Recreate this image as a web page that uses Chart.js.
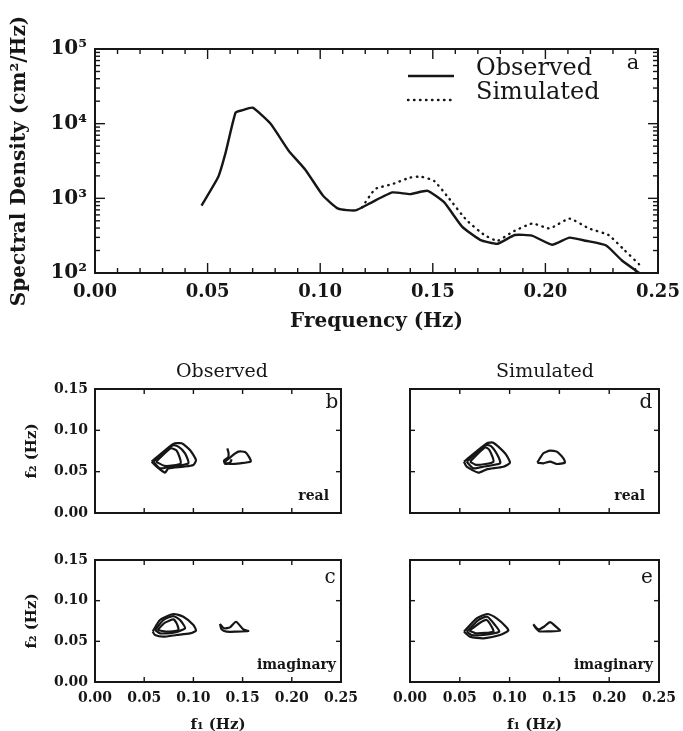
<!DOCTYPE html>
<html>
<head>
<meta charset="utf-8">
<script src="https://cdn.jsdelivr.net/npm/chart.js@4.4.0/dist/chart.umd.min.js"></script>
<style>
  body { margin: 0; background: #fff; width: 683px; height: 731px; position: relative; overflow: hidden; }
  canvas { position: absolute; }
</style>
</head>
<body>
<canvas id="chartA" style="left:0;top:0" width="683" height="340"></canvas>
<canvas id="chartB" style="left:0;top:340px" width="380" height="180"></canvas>
<canvas id="chartD" style="left:345px;top:340px" width="338" height="180"></canvas>
<canvas id="chartC" style="left:0;top:520px" width="380" height="215"></canvas>
<canvas id="chartE" style="left:345px;top:520px" width="338" height="215"></canvas>
<script>
// panel a: spectra
const freq = [0.0473, 0.0547, 0.0580, 0.0624, 0.0653, 0.0700, 0.0779, 0.0860, 0.0934, 0.1012, 0.1080, 0.1157,
              0.1225, 0.1320, 0.1400, 0.1477, 0.1550, 0.1630, 0.1710, 0.1787, 0.1864, 0.1940, 0.2030, 0.2107,
              0.2180, 0.2270, 0.2340, 0.2417];
const observed = [800, 1930, 4100, 14000, 15100, 16400, 10050, 4350, 2420, 1090, 726, 690,
                  871, 1200, 1140, 1260, 889, 418, 278, 246, 323, 317, 239, 298,
                  270, 234, 147, 100];
const simFreq = [0.1186, 0.1244, 0.1320, 0.1400, 0.1448, 0.1506, 0.1574, 0.1650, 0.1729, 0.1787, 0.1855,
                 0.1942, 0.2019, 0.2107, 0.2194, 0.2280, 0.2349, 0.2417];
const simulated = [760, 1330, 1550, 1900, 1950, 1710, 980, 510, 323, 270, 357,
                   460, 395, 535, 395, 323, 205, 130];
const freqTicks = [0, 0.05, 0.10, 0.15, 0.20, 0.25];
const densityTicks = [1e2, 1e3, 1e4, 1e5];

// panels b-e: bispectrum contours, [f1, f2] in Hz
const f1Ticks = [0, 0.05, 0.10, 0.15, 0.20, 0.25];
const f2Ticks = [0, 0.05, 0.10, 0.15];

const realObsOuter = [[0.0576,0.0621],[0.0796,0.0835],[0.0881,0.0843],[0.0965,0.0762],[0.1026,0.0641],[0.0999,0.0580],[0.0898,0.0560],[0.0745,0.0540],[0.0711,0.0488],[0.0627,0.0560]];
const realObsMiddle = [[0.0593,0.0620],[0.0790,0.0819],[0.0847,0.0802],[0.0915,0.0722],[0.0948,0.0601],[0.0762,0.0560],[0.0660,0.0540]];
const realObsInner = [[0.0620,0.0620],[0.0769,0.0782],[0.0830,0.0754],[0.0870,0.0601],[0.0711,0.0569]];
const realObsSmall = [[0.1311,0.0609],[0.1389,0.0689],[0.1457,0.0742],[0.1524,0.0738],[0.1568,0.0673],[0.1582,0.0621],[0.1474,0.0601],[0.1372,0.0593]];
const realObsCurl = [[0.1345,0.0782],[0.1358,0.0722],[0.1352,0.0673],[0.1311,0.0633],[0.1325,0.0593],[0.1372,0.0609],[0.1389,0.0649]];

const realSimOuter = [[0.0542,0.0621],[0.0770,0.0843],[0.0837,0.0850],[0.0954,0.0722],[0.1004,0.0609],[0.0937,0.0560],[0.0770,0.0528],[0.0686,0.0488],[0.0569,0.0560]];
const realSimMiddle = [[0.0569,0.0621],[0.0763,0.0823],[0.0820,0.0802],[0.0887,0.0681],[0.0904,0.0601],[0.0736,0.0560],[0.0636,0.0540]];
const realSimInner = [[0.0602,0.0621],[0.0753,0.0794],[0.0797,0.0762],[0.0837,0.0621],[0.0669,0.0581]];
const realSimSmall = [[0.1278,0.0609],[0.1339,0.0722],[0.1406,0.0754],[0.1473,0.0742],[0.1540,0.0661],[0.1556,0.0609],[0.1473,0.0593],[0.1406,0.0621],[0.1339,0.0601]];

const imagObsOuter = [[0.0586,0.0619],[0.0660,0.0762],[0.0796,0.0836],[0.0898,0.0803],[0.1000,0.0701],[0.1026,0.0631],[0.0965,0.0598],[0.0830,0.0578],[0.0694,0.0557],[0.0610,0.0578]];
const imagObsMiddle = [[0.0610,0.0639],[0.0694,0.0762],[0.0796,0.0811],[0.0864,0.0762],[0.0915,0.0660],[0.0796,0.0606],[0.0660,0.0598]];
const imagObsInner = [[0.0634,0.0639],[0.0711,0.0729],[0.0796,0.0770],[0.0830,0.0721],[0.0847,0.0639],[0.0728,0.0619]];
const imagObsSmall = [[0.1270,0.0713],[0.1311,0.0660],[0.1372,0.0672],[0.1433,0.0741],[0.1507,0.0647],[0.1558,0.0627],[0.1440,0.0619],[0.1338,0.0619],[0.1287,0.0647]];

const imagSimOuter = [[0.0542,0.0619],[0.0669,0.0783],[0.0776,0.0836],[0.0870,0.0783],[0.0964,0.0680],[0.0987,0.0631],[0.0904,0.0578],[0.0736,0.0537],[0.0602,0.0557]];
const imagSimMiddle = [[0.0569,0.0619],[0.0686,0.0762],[0.0776,0.0803],[0.0853,0.0701],[0.0897,0.0619],[0.0736,0.0578],[0.0619,0.0578]];
const imagSimInner = [[0.0596,0.0631],[0.0703,0.0729],[0.0770,0.0762],[0.0820,0.0680],[0.0837,0.0619],[0.0669,0.0598]];
const imagSimSmall = [[0.1238,0.0709],[0.1288,0.0647],[0.1345,0.0680],[0.1406,0.0737],[0.1466,0.0680],[0.1506,0.0631],[0.1389,0.0623],[0.1298,0.0623],[0.1265,0.0660]];

const BLACK = '#161616';
const SERIF = "'DejaVu Serif', serif";
const SUP = { 2: '\u00b2', 3: '\u00b3', 4: '\u2074', 5: '\u2075' };

// inward ticks on all four sides, the box, and loose text
const frame = {
  id: 'frame',
  afterDraw(chart, args, opts) {
    const { ctx, chartArea: a, scales: { x, y } } = chart;
    ctx.save();
    ctx.strokeStyle = BLACK;
    ctx.fillStyle = BLACK;
    ctx.lineWidth = 1.4;
    const seg = (x0, y0, x1, y1) => { ctx.beginPath(); ctx.moveTo(x0, y0); ctx.lineTo(x1, y1); ctx.stroke(); };
    (opts.xTicks || []).forEach(([v, len]) => {
      const px = x.getPixelForValue(v);
      seg(px, a.bottom, px, a.bottom - len);
      seg(px, a.top, px, a.top + len);
    });
    (opts.yTicks || []).forEach(([v, len]) => {
      const py = y.getPixelForValue(v);
      seg(a.left, py, a.left + len, py);
      seg(a.right, py, a.right - len, py);
    });
    ctx.lineWidth = 2;
    ctx.strokeRect(a.left, a.top, a.right - a.left, a.bottom - a.top);

    if (opts.legend) {
      chart.data.datasets.forEach((ds, i) => {
        const ly = opts.legend.y + i * opts.legend.gap;
        ctx.lineWidth = ds.borderWidth;
        ctx.lineCap = ds.borderCapStyle || 'butt';
        ctx.setLineDash(ds.borderDash || []);
        seg(opts.legend.x0, ly + 7, opts.legend.x1, ly + 7);
        ctx.setLineDash([]);
        ctx.font = opts.legend.font;
        ctx.textAlign = 'left';
        ctx.textBaseline = 'middle';
        ctx.fillText(ds.label, opts.legend.tx, ly);
      });
    }
    (opts.texts || []).forEach(t => {
      ctx.font = t.font;
      ctx.textAlign = t.align || 'center';
      ctx.textBaseline = 'middle';
      ctx.fillText(t.text, t.x, t.y);
    });
    ctx.restore();
  }
};

function linePoints(xs, ys) {
  return xs.map((v, i) => ({ x: v, y: ys[i] }));
}

function contour(pts, closed) {
  const list = closed === false ? pts : pts.concat([pts[0]]);
  return {
    data: list.map(p => ({ x: p[0], y: p[1] })),
    showLine: true, borderColor: BLACK, borderWidth: 2.2, pointRadius: 0, tension: 0.2
  };
}

const majorMinor = (majors, minors, bigLen, smallLen) =>
  majors.map(v => [v, bigLen]).concat(minors.map(v => [v, smallLen]));

// panel a
const freqMinor = [];
for (let k = 1; k < 25; k++) if (k % 5) freqMinor.push(k / 100);
const densityMinor = [];
[1e2, 1e3, 1e4].forEach(d => { for (let k = 2; k <= 9; k++) densityMinor.push(k * d); });

new Chart(document.getElementById('chartA'), {
  type: 'scatter',
  data: {
    datasets: [
      { label: 'Observed', data: linePoints(freq, observed), showLine: true, borderColor: BLACK,
        borderWidth: 2.4, pointRadius: 0, tension: 0.15 },
      { label: 'Simulated', data: linePoints(simFreq, simulated), showLine: true, borderColor: BLACK,
        borderWidth: 2.4, borderDash: [0.5, 5.5], borderCapStyle: 'round', pointRadius: 0, tension: 0.15 }
    ]
  },
  options: {
    responsive: false,
    animation: false,
    layout: { padding: { left: 0, top: 49, right: 25, bottom: 0 } },
    plugins: {
      legend: { display: false },
      tooltip: { enabled: false },
      frame: {
        xTicks: majorMinor(freqTicks, freqMinor, 10, 5),
        yTicks: majorMinor(densityTicks, densityMinor, 10, 5),
        legend: { x0: 408, x1: 454, tx: 476, y: 69, gap: 24, font: '24px ' + SERIF },
        texts: [{ text: 'a', x: 633, y: 64, font: '21px ' + SERIF }]
      }
    },
    scales: {
      x: {
        type: 'linear', min: 0, max: 0.25,
        grid: { display: false, drawTicks: false }, border: { display: false },
        afterBuildTicks: s => { s.ticks = freqTicks.map(v => ({ value: v })); },
        afterFit: s => { s.height = 67; s.paddingLeft = 0; s.paddingRight = 0; },
        ticks: { padding: 9, color: BLACK, font: { family: SERIF, size: 18, weight: 'bold' },
                 callback: v => v.toFixed(2) },
        title: { display: true, text: 'Frequency (Hz)', color: BLACK,
                 font: { family: SERIF, size: 20, weight: 'bold' }, padding: { top: 0, bottom: 6 } }
      },
      y: {
        type: 'logarithmic', min: 100, max: 1e5,
        grid: { display: false, drawTicks: false }, border: { display: false },
        afterBuildTicks: s => { s.ticks = densityTicks.map(v => ({ value: v })); },
        afterFit: s => { s.width = 95; s.paddingTop = 0; s.paddingBottom = 0; },
        ticks: { padding: 8, color: BLACK, font: { family: SERIF, size: 20, weight: 'bold' },
                 callback: v => '10' + SUP[Math.round(Math.log10(v))] },
        title: { display: true, text: 'Spectral Density (cm\u00b2/Hz)', color: BLACK,
                 font: { family: SERIF, size: 20, weight: 'bold' }, padding: { top: 8, bottom: 0 } }
      }
    }
  },
  plugins: [frame]
});

// panels b-e
function contourPanel(id, opt) {
  const H = opt.height;
  return new Chart(document.getElementById(id), {
    type: 'scatter',
    data: { datasets: opt.loops },
    options: {
      responsive: false,
      animation: false,
      layout: { padding: { left: 0, top: opt.area.top, right: opt.right, bottom: 0 } },
      plugins: {
        legend: { display: false },
        tooltip: { enabled: false },
        frame: {
          xTicks: f1Ticks.map(v => [v, 5]),
          yTicks: f2Ticks.map(v => [v, 5]),
          texts: opt.texts
        }
      },
      scales: {
        x: {
          type: 'linear', min: 0, max: 0.25,
          grid: { display: false, drawTicks: false }, border: { display: false },
          afterBuildTicks: s => { s.ticks = f1Ticks.map(v => ({ value: v })); },
          afterFit: s => { s.height = H - opt.area.bottom; s.paddingLeft = 0; s.paddingRight = 0; },
          ticks: { display: opt.xLabels, padding: 8, color: BLACK,
                   font: { family: SERIF, size: 14, weight: 'bold' }, callback: v => v.toFixed(2) },
          title: { display: opt.xLabels, text: 'f\u2081 (Hz)', color: BLACK,
                   font: { family: SERIF, size: 15, weight: 'bold' }, padding: { top: 0, bottom: 1 } }
        },
        y: {
          type: 'linear', min: 0, max: 0.15,
          grid: { display: false, drawTicks: false }, border: { display: false },
          afterBuildTicks: s => { s.ticks = f2Ticks.map(v => ({ value: v })); },
          afterFit: s => { s.width = opt.area.left; s.paddingTop = 0; s.paddingBottom = 0; },
          ticks: { display: opt.yLabels, padding: 7, color: BLACK,
                   font: { family: SERIF, size: 14, weight: 'bold' }, callback: v => v.toFixed(2) },
          title: { display: opt.yLabels, text: 'f\u2082 (Hz)', color: BLACK,
                   font: { family: SERIF, size: 15, weight: 'bold' }, padding: { top: 23, bottom: 0 } }
        }
      }
    },
    plugins: [frame]
  });
}

const letterFont = '20px ' + SERIF;
const tagFont = 'bold 14px ' + SERIF;
const headFont = '19px ' + SERIF;

contourPanel('chartB', {
  height: 180, right: 39, area: { left: 95, top: 49, bottom: 173 }, xLabels: false, yLabels: true,
  loops: [contour(realObsOuter), contour(realObsMiddle), contour(realObsInner),
          contour(realObsSmall), contour(realObsCurl, false)],
  texts: [
    { text: 'Observed', x: 222, y: 32, font: headFont },
    { text: 'b', x: 332, y: 63, font: letterFont },
    { text: 'real', x: 329, y: 156, font: tagFont, align: 'right' }
  ]
});

contourPanel('chartD', {
  height: 180, right: 24, area: { left: 65, top: 49, bottom: 173 }, xLabels: false, yLabels: false,
  loops: [contour(realSimOuter), contour(realSimMiddle), contour(realSimInner), contour(realSimSmall)],
  texts: [
    { text: 'Simulated', x: 200, y: 32, font: headFont },
    { text: 'd', x: 301, y: 63, font: letterFont },
    { text: 'real', x: 300, y: 156, font: tagFont, align: 'right' }
  ]
});

contourPanel('chartC', {
  height: 215, right: 39, area: { left: 95, top: 40, bottom: 162 }, xLabels: true, yLabels: true,
  loops: [contour(imagObsOuter), contour(imagObsMiddle), contour(imagObsInner), contour(imagObsSmall)],
  texts: [
    { text: 'c', x: 330, y: 58, font: letterFont },
    { text: 'imaginary', x: 336, y: 145, font: tagFont, align: 'right' }
  ]
});

contourPanel('chartE', {
  height: 215, right: 24, area: { left: 65, top: 40, bottom: 162 }, xLabels: true, yLabels: false,
  loops: [contour(imagSimOuter), contour(imagSimMiddle), contour(imagSimInner), contour(imagSimSmall)],
  texts: [
    { text: 'e', x: 302, y: 58, font: letterFont },
    { text: 'imaginary', x: 308, y: 145, font: tagFont, align: 'right' }
  ]
});
</script>
</body>
</html>
